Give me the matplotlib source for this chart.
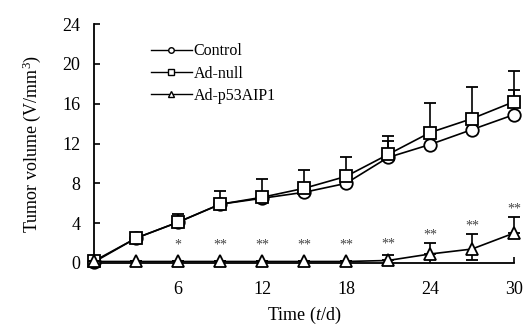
import matplotlib
matplotlib.use("Agg")
import matplotlib.pyplot as plt
from matplotlib.lines import Line2D

plt.rcParams['font.family'] = ['Liberation Serif', 'DejaVu Serif']
plt.rcParams['mathtext.fontset'] = 'custom'
plt.rcParams['mathtext.rm'] = 'Liberation Serif'
plt.rcParams['mathtext.it'] = 'Liberation Serif:italic'

days = [0, 3, 6, 9, 12, 15, 18, 21, 24, 27, 30]
control = [0.1, 2.5, 4.1, 5.9, 6.5, 7.1, 8.0, 10.6, 11.9, 13.4, 14.9]
control_err = [0.0, 0.0, 0.0, 0.0, 0.0, 0.0, 0.0, 1.7, 0.0, 0.0, 2.5]
adnull = [0.2, 2.5, 4.1, 5.9, 6.6, 7.5, 8.7, 10.9, 13.1, 14.5, 16.2]
adnull_err = [0.0, 0.0, 0.8, 1.3, 1.8, 1.8, 1.9, 1.9, 3.0, 3.2, 3.1]
p53 = [0.15, 0.15, 0.15, 0.15, 0.15, 0.15, 0.15, 0.25, 0.9, 1.4, 3.0]
p53_err = [0.0, 0.0, 0.0, 0.0, 0.0, 0.0, 0.0, 0.6, 1.1, 1.5, 1.6]
p53_lower_err = [0.0, 0.0, 0.0, 0.0, 0.0, 0.0, 0.0, 0.0, 0.0, 1.1, 0.0]
sig = ['', '', '*', '**', '**', '**', '**', '**', '**', '**', '**']

xticks = [6, 12, 18, 24, 30]
yticks = [0, 4, 8, 12, 16, 20, 24]

fig = plt.figure(figsize=(5.32, 3.35), dpi=100)
ax = fig.add_axes([0.177, 0.215, 0.789, 0.713])

common = dict(color='black', lw=1.2, mfc='white', mec='black', mew=1.3,
              capsize=4, elinewidth=1.2, capthick=1.4)
for ys, err, m, z in [(adnull, [[0]*len(days), adnull_err], 's', 3),
                      (control, [[0]*len(days), control_err], 'o', 2),
                      (p53, [p53_lower_err, p53_err], '^', 4)]:
    cont = ax.errorbar(days, ys, yerr=err, marker=m, ms=9, zorder=z, **common)
    for art in cont.get_children():
        art.set_clip_on(False)

for d, v, e, s in zip(days, p53, p53_err, sig):
    if s:
        top = max(v + e, v + 0.8)
        ax.text(d, top + 0.15, s, ha='center', va='bottom', fontsize=10, color='#444444')

ax.set_xlim(0, 30)
ax.set_ylim(0, 24)
ax.set_xticks(xticks)
ax.set_yticks(yticks)
ax.tick_params(direction='in', length=4, width=1.2, labelsize=13, pad=10)
ax.tick_params(axis='x', pad=13)
for side in ['top', 'right']:
    ax.spines[side].set_visible(False)
for side in ['left', 'bottom']:
    ax.spines[side].set_linewidth(1.3)
ax.set_xlabel('Time ($t$/d)', fontsize=13, labelpad=5)
ax.set_ylabel('Tumor volume (V/mm$^3$)', fontsize=13, labelpad=14)

handles = [Line2D([], [], color='black', lw=1, marker='o', ms=4, mfc='white', mec='black'),
           Line2D([], [], color='black', lw=1, marker='s', ms=4, mfc='white', mec='black'),
           Line2D([], [], color='black', lw=1, marker='^', ms=4, mfc='white', mec='black')]
ax.legend(handles, ['Control', 'Ad-null', 'Ad-p53AIP1'], loc='upper left',
          bbox_to_anchor=(0.1, 0.98), frameon=False, fontsize=11.5,
          handlelength=2.6, handletextpad=0.1, labelspacing=0.4)

fig.savefig('out.png', dpi=100)
